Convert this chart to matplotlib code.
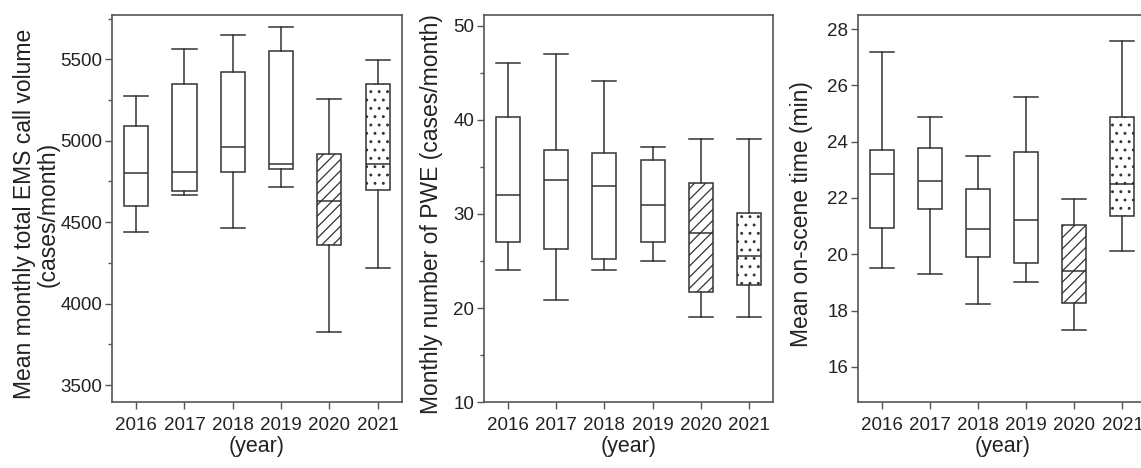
import matplotlib
matplotlib.use("Agg")
import matplotlib.pyplot as plt
from matplotlib.ticker import MultipleLocator

years = ["2016", "2017", "2018", "2019", "2020", "2021"]

# box stats: whisker low, Q1, median, Q3, whisker high
calls_low = [4438, 4669, 4464, 4718, 3823, 4221]
calls_q1 = [4599, 4689, 4808, 4824, 4358, 4695]
calls_med = [4802, 4808, 4962, 4859, 4628, 4859]
calls_q3 = [5089, 5346, 5422, 5549, 4921, 5346]
calls_high = [5275, 5561, 5647, 5697, 5258, 5498]

pwe_low = [24.0, 20.9, 24.0, 25.0, 19.0, 19.0]
pwe_q1 = [27.0, 26.3, 25.2, 27.0, 21.7, 22.5]
pwe_med = [32.0, 33.6, 33.0, 31.0, 28.0, 25.5]
pwe_q3 = [40.3, 36.8, 36.5, 35.7, 33.3, 30.1]
pwe_high = [46.1, 47.0, 44.1, 37.1, 38.0, 38.0]

scene_low = [19.52, 19.29, 18.22, 19.02, 17.30, 20.12]
scene_q1 = [20.93, 21.61, 19.89, 19.70, 18.27, 21.36]
scene_med = [22.85, 22.59, 20.91, 21.20, 19.42, 22.49]
scene_q3 = [23.72, 23.76, 22.33, 23.63, 21.03, 24.87]
scene_high = [27.17, 24.89, 23.50, 25.60, 21.98, 27.59]

hatches = ["", "", "", "", "///", ".."]

LINE = "#333333"
SPINE = "#555555"
TEXT = "#222222"
fam = ["Liberation Sans", "DejaVu Sans"]

plt.rcParams["hatch.linewidth"] = 0.9
plt.rcParams["hatch.color"] = LINE


def make_stats(low, q1, med, q3, high):
    return [dict(whislo=a, q1=b, med=c, q3=d, whishi=e, fliers=[])
            for a, b, c, d, e in zip(low, q1, med, q3, high)]


def draw_panel(ax, stats, ylim, major, minor, ylabel, label_x):
    pos = list(range(len(years)))
    lp = dict(color=LINE, linewidth=1.1)
    bp = ax.bxp(stats, positions=pos, widths=0.5, patch_artist=True,
                showfliers=False,
                boxprops=dict(facecolor="white", edgecolor=LINE, linewidth=1.1),
                medianprops=lp, whiskerprops=lp, capprops=lp, capwidths=0.5)
    for box, h in zip(bp["boxes"], hatches):
        box.set_hatch(h)
    ax.set_xlim(-0.5, 5.5)
    ax.set_ylim(*ylim)
    ax.yaxis.set_major_locator(MultipleLocator(major))
    if minor:
        ax.yaxis.set_minor_locator(MultipleLocator(minor))
    ax.set_xticks(pos)
    ax.set_xticklabels(years, family=fam, fontsize=13.5, color=TEXT)
    for t in ax.get_yticklabels():
        t.set_family(fam)
        t.set_fontsize(13.5)
        t.set_color(TEXT)
    ax.tick_params(axis="both", which="major", length=5, width=1, color=SPINE)
    ax.tick_params(axis="x", which="major", pad=6)
    ax.tick_params(axis="y", which="major", pad=2)
    ax.tick_params(axis="y", which="minor", length=3, width=1, color=SPINE)
    for s in ax.spines.values():
        s.set_color(SPINE)
        s.set_linewidth(1.2)
    ax.set_xlabel("(year)", family=fam, fontsize=15.5, color=TEXT)
    ax.xaxis.set_label_coords(0.5, -0.088)
    ax.set_ylabel(ylabel, family=fam, fontsize=16.5, color=TEXT,
                  linespacing=1.05)
    ax.yaxis.set_label_coords(label_x, 0.485)


fig = plt.figure(figsize=(11.41, 4.68), dpi=100)
ax1 = fig.add_axes([0.0982, 0.141, 0.254, 0.827])
ax2 = fig.add_axes([0.4242, 0.141, 0.2533, 0.827])
ax3 = fig.add_axes([0.752, 0.141, 0.2528, 0.827])

draw_panel(ax1, make_stats(calls_low, calls_q1, calls_med, calls_q3, calls_high),
           (3396, 5772), 500, 250,
           "Mean monthly total EMS call volume\n(cases/month)", -0.18)
draw_panel(ax2, make_stats(pwe_low, pwe_q1, pwe_med, pwe_q3, pwe_high),
           (10, 51.17), 10, 5, "Monthly number of PWE (cases/month)", -0.142)
draw_panel(ax3, make_stats(scene_low, scene_q1, scene_med, scene_q3, scene_high),
           (14.75, 28.5), 2, None, "Mean on-scene time (min)", -0.156)

fig.savefig("out.png", dpi=100)
